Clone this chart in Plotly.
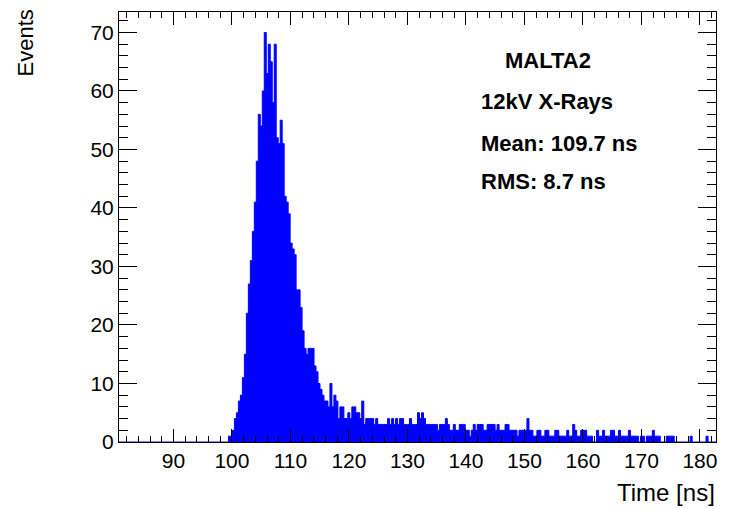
import plotly.graph_objects as go

# Histogram definition (axis range and binning)
x_min = 80.7
x_max = 182.75
n_bins = 300

# Bin contents (events per bin)
counts = (
    [0] * 55 +
    [1, 1, 2, 4, 5, 7, 8, 11, 15, 22,
     27, 31, 36, 41, 48, 56, 54, 60, 70, 63,
     68, 65, 58, 68, 52, 51, 55, 51, 42, 41,
     39, 34, 33, 32, 26, 26, 23, 19, 16, 15,
     16, 16, 16, 13, 12, 10, 9, 8, 7, 7,
     6, 10, 6, 8, 7, 4, 6, 6, 4, 4,
     5, 4, 6, 6, 5, 5, 4, 7, 3, 4,
     4, 4, 4, 3, 4, 3, 3, 3, 3, 3,
     4, 3, 4, 3, 4, 3, 4, 4, 3, 3,
     3, 4, 3, 3, 3, 5, 4, 5, 4, 3,
     3, 3, 3, 3, 3, 2, 3, 3, 3, 4,
     3, 2, 2, 3, 2, 2, 3, 3, 3, 2,
     2, 1, 2, 3, 2, 3, 3, 3, 2, 2,
     3, 3, 3, 3, 2, 3, 2, 2, 2, 3,
     3, 2, 2, 2, 2, 1, 2, 2, 2, 2,
     4, 2, 2, 1, 1, 2, 2, 1, 1, 2,
     2, 1, 1, 1, 2, 2, 1, 1, 1, 1,
     2, 1, 1, 3, 2, 1, 1, 2, 2, 2,
     1, 1, 1, 0, 0, 2, 1, 1, 2, 1,
     1, 1, 2, 2, 1, 1, 2, 1, 1, 1,
     1, 2, 1, 1, 1, 1, 0, 1, 1, 0,
     1, 1, 1, 2, 1, 1, 1, 0, 0, 0,
     1, 1, 1, 1, 0, 0, 0, 0, 0, 0,
     0, 0, 1, 0, 0, 0, 0, 0, 0, 0,
     1, 0, 0, 0, 0]
)

x_ticks = [90, 100, 110, 120, 130, 140, 150, 160, 170, 180]
y_ticks = [0, 10, 20, 30, 40, 50, 60, 70]
info_lines = ["12kV X-Rays", "Mean: 109.7 ns", "RMS: 8.7 ns"]
title_text = "MALTA2"

bw = (x_max - x_min) / n_bins
edges = [x_min + i * bw for i in range(n_bins + 1)]
xs = edges
ys = counts + [counts[-1]]

FONT = "Liberation Sans, Arial, Helvetica, sans-serif"

fig = go.Figure()
fig.add_trace(go.Scatter(
    x=xs, y=ys, mode="lines", line_shape="hv",
    line=dict(color="#0000ff", width=1),
    fill="tozeroy", fillcolor="#0000ff",
    hoverinfo="skip", showlegend=False,
))

axis_common = dict(
    showline=True, linecolor="black", linewidth=1, mirror="ticks",
    ticks="inside", tickcolor="black", tickwidth=1,
    showgrid=False, zeroline=False,
    tickfont=dict(family=FONT, size=21, color="black"),
)

fig.update_xaxes(
    range=[x_min, x_max], tickvals=x_ticks, ticktext=[str(v) for v in x_ticks],
    ticklen=13,
    minor=dict(ticks="inside", ticklen=6, dtick=2, tick0=0, tickcolor="black", tickwidth=1, showgrid=False),
    **axis_common,
)
fig.update_yaxes(
    range=[0, 73.5], tickvals=y_ticks, ticktext=[str(v) for v in y_ticks],
    ticklen=18,
    minor=dict(ticks="inside", ticklen=9, dtick=2, tick0=0, tickcolor="black", tickwidth=1, showgrid=False),
    **axis_common,
)

annotations = [
    dict(text="<b>%s</b>" % title_text, x=0.7194, y=0.887, xanchor="center", yanchor="middle",
         font=dict(family=FONT, size=22, color="black")),
]
info_y = [0.7907, 0.6947, 0.6047]
for t, yy in zip(info_lines, info_y):
    annotations.append(dict(text="<b>%s</b>" % t, x=0.6047, y=yy, xanchor="left", yanchor="middle",
                            font=dict(family=FONT, size=22, color="black")))
annotations.append(dict(text="Time [ns]", x=1.0, y=-0.1186, xanchor="right", yanchor="middle",
                        font=dict(family=FONT, size=24, color="black")))
annotations.append(dict(text="Events", x=-0.1558, y=1.0093, xanchor="center", yanchor="top",
                        textangle=-90, font=dict(family=FONT, size=22, color="black")))
for a in annotations:
    a.update(xref="paper", yref="paper", showarrow=False, borderpad=0)

fig.update_layout(
    width=737, height=509,
    margin=dict(l=119, r=21, t=12, b=67),
    paper_bgcolor="white", plot_bgcolor="white",
    annotations=annotations,
    showlegend=False,
)

fig.write_html("out.html", config={"displayModeBar": False},
               post_script="document.body.style.margin='0';document.body.style.padding='0';")
